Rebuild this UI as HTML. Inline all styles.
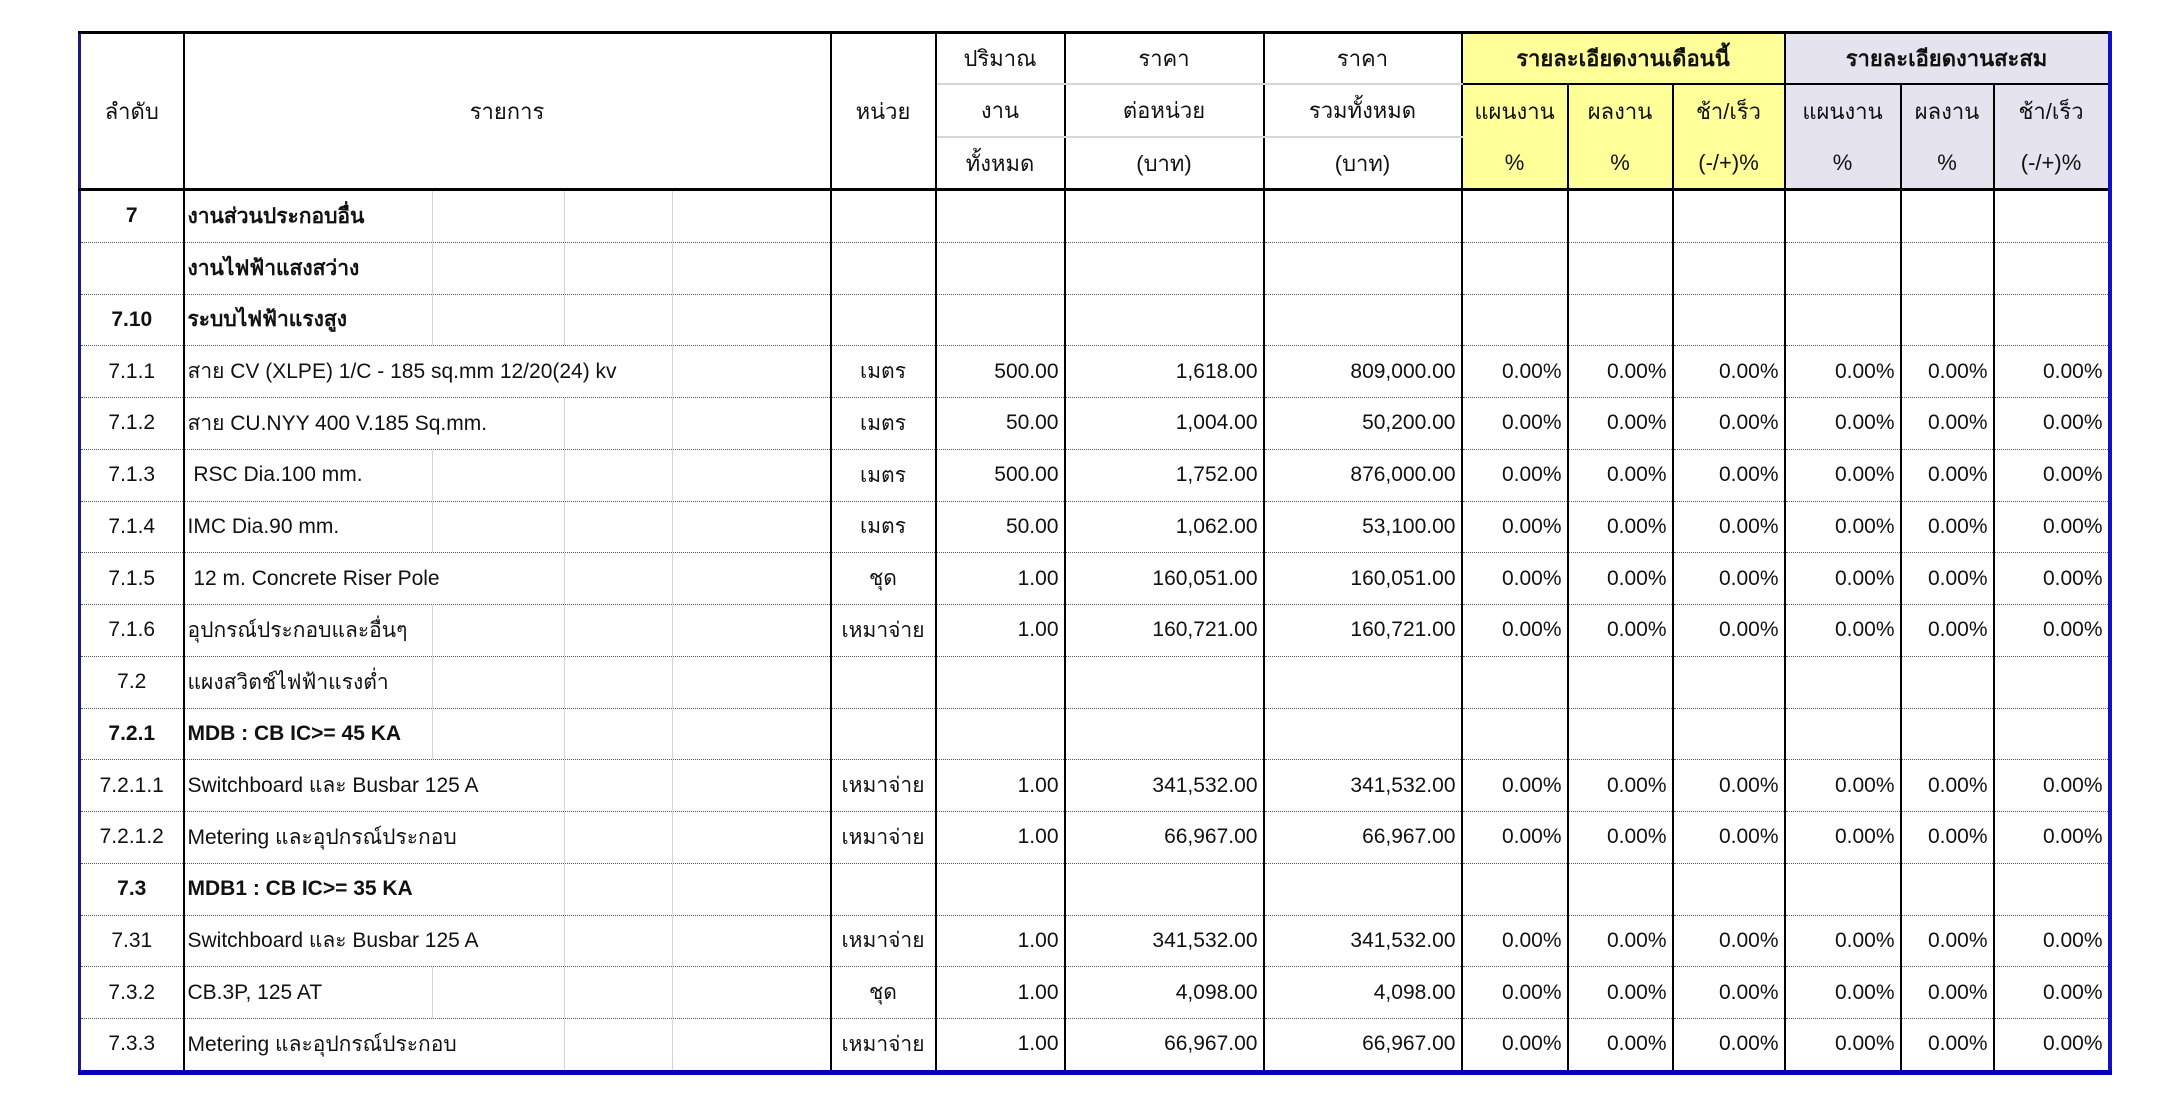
<!DOCTYPE html>
<html><head><meta charset="utf-8"><style>
html,body{margin:0;padding:0;background:#fff;width:2158px;height:1114px;overflow:hidden}
body{font-family:"Liberation Sans","DejaVu Sans",sans-serif;}
table{position:absolute;left:78px;top:31px;border-collapse:collapse;table-layout:fixed;width:2030px;
 border-top:3px solid #000;border-left:3px solid #1a1a80;border-right:4px solid #1010c8;border-bottom:5px solid #0000b8}
td{padding:0 5px;font-size:21px;color:#111;white-space:nowrap;overflow:visible;border-left:2px solid #000;border-right:2px solid #000;vertical-align:middle}
tr.b td{height:50.75px;border-bottom:1px dotted #555}
td.q{border-right:1px solid #555}
.c{text-align:center}.r{text-align:right}.bo{font-weight:bold}
.d{position:relative;padding-left:3px}
.d span{position:relative;z-index:2}
.g{position:absolute;top:0;bottom:0;width:1px;background:#d4d4d4;z-index:1}
.g1{left:247px}.g2{left:379px}.g3{left:487px}
.y{background:#ffff99}.l{background:#e5e3ee}
.h td{text-align:center;font-size:22px}
.h1 td{height:49px}.h2 td{height:51px}.h3 td{height:50px}
.gl{border-bottom:2px solid #d6d6d6}
.hb td{border-bottom:3px solid #000}
</style></head><body>
<table>
<colgroup><col style="width:104px"><col style="width:647px"><col style="width:105px"><col style="width:129px"><col style="width:199px"><col style="width:198px"><col style="width:106px"><col style="width:105px"><col style="width:112px"><col style="width:116px"><col style="width:93px"><col style="width:116px"></colgroup>
<tr class="h h1"><td rowspan="3" style="border-bottom:3px solid #000">ลำดับ</td><td rowspan="3" style="border-bottom:3px solid #000">รายการ</td><td rowspan="3" style="border-bottom:3px solid #000">หน่วย</td><td class="gl q">ปริมาณ</td><td class="gl">ราคา</td><td class="gl">ราคา</td><td colspan="3" class="y bo" style="border-bottom:2px solid #000">รายละเอียดงานเดือนนี้</td><td colspan="3" class="l bo" style="border-bottom:2px solid #000">รายละเอียดงานสะสม</td></tr>
<tr class="h h2"><td class="gl q">งาน</td><td class="gl">ต่อหน่วย</td><td class="gl">รวมทั้งหมด</td><td class="y">แผนงาน</td><td class="y">ผลงาน</td><td class="y">ช้า/เร็ว</td><td class="l">แผนงาน</td><td class="l">ผลงาน</td><td class="l">ช้า/เร็ว</td></tr>
<tr class="h h3 hb"><td class="q">ทั้งหมด</td><td>(บาท)</td><td>(บาท)</td><td class="y">%</td><td class="y">%</td><td class="y">(-/+)%</td><td class="l">%</td><td class="l">%</td><td class="l">(-/+)%</td></tr>

<tr class="b"><td class="c bo">7</td><td class="d bo"><i class="g g1"></i><i class="g g2"></i><i class="g g3"></i><span>งานส่วนประกอบอื่น</span></td><td></td><td class="q"></td><td></td><td></td><td></td><td></td><td></td><td></td><td></td><td></td></tr>
<tr class="b"><td class="c"></td><td class="d bo"><i class="g g1"></i><i class="g g2"></i><i class="g g3"></i><span>งานไฟฟ้าแสงสว่าง</span></td><td></td><td class="q"></td><td></td><td></td><td></td><td></td><td></td><td></td><td></td><td></td></tr>
<tr class="b"><td class="c bo">7.10</td><td class="d bo"><i class="g g1"></i><i class="g g2"></i><i class="g g3"></i><span>ระบบไฟฟ้าแรงสูง</span></td><td></td><td class="q"></td><td></td><td></td><td></td><td></td><td></td><td></td><td></td><td></td></tr>
<tr class="b"><td class="c">7.1.1</td><td class="d"><i class="g g3"></i><span>สาย CV (XLPE) 1/C - 185 sq.mm 12/20(24) kv</span></td><td class="c">เมตร</td><td class="r q">500.00</td><td class="r">1,618.00</td><td class="r">809,000.00</td><td class="r">0.00%</td><td class="r">0.00%</td><td class="r">0.00%</td><td class="r">0.00%</td><td class="r">0.00%</td><td class="r">0.00%</td></tr>
<tr class="b"><td class="c">7.1.2</td><td class="d"><i class="g g2"></i><i class="g g3"></i><span>สาย CU.NYY 400 V.185 Sq.mm.</span></td><td class="c">เมตร</td><td class="r q">50.00</td><td class="r">1,004.00</td><td class="r">50,200.00</td><td class="r">0.00%</td><td class="r">0.00%</td><td class="r">0.00%</td><td class="r">0.00%</td><td class="r">0.00%</td><td class="r">0.00%</td></tr>
<tr class="b"><td class="c">7.1.3</td><td class="d"><i class="g g1"></i><i class="g g2"></i><i class="g g3"></i><span>&nbsp;RSC Dia.100 mm.</span></td><td class="c">เมตร</td><td class="r q">500.00</td><td class="r">1,752.00</td><td class="r">876,000.00</td><td class="r">0.00%</td><td class="r">0.00%</td><td class="r">0.00%</td><td class="r">0.00%</td><td class="r">0.00%</td><td class="r">0.00%</td></tr>
<tr class="b"><td class="c">7.1.4</td><td class="d"><i class="g g1"></i><i class="g g2"></i><i class="g g3"></i><span>IMC Dia.90 mm.</span></td><td class="c">เมตร</td><td class="r q">50.00</td><td class="r">1,062.00</td><td class="r">53,100.00</td><td class="r">0.00%</td><td class="r">0.00%</td><td class="r">0.00%</td><td class="r">0.00%</td><td class="r">0.00%</td><td class="r">0.00%</td></tr>
<tr class="b"><td class="c">7.1.5</td><td class="d"><i class="g g2"></i><i class="g g3"></i><span>&nbsp;12 m. Concrete Riser Pole</span></td><td class="c">ชุด</td><td class="r q">1.00</td><td class="r">160,051.00</td><td class="r">160,051.00</td><td class="r">0.00%</td><td class="r">0.00%</td><td class="r">0.00%</td><td class="r">0.00%</td><td class="r">0.00%</td><td class="r">0.00%</td></tr>
<tr class="b"><td class="c">7.1.6</td><td class="d"><i class="g g1"></i><i class="g g2"></i><i class="g g3"></i><span>อุปกรณ์ประกอบและอื่นๆ</span></td><td class="c">เหมาจ่าย</td><td class="r q">1.00</td><td class="r">160,721.00</td><td class="r">160,721.00</td><td class="r">0.00%</td><td class="r">0.00%</td><td class="r">0.00%</td><td class="r">0.00%</td><td class="r">0.00%</td><td class="r">0.00%</td></tr>
<tr class="b"><td class="c">7.2</td><td class="d"><i class="g g1"></i><i class="g g2"></i><i class="g g3"></i><span>แผงสวิตช์ไฟฟ้าแรงต่ำ</span></td><td></td><td class="q"></td><td></td><td></td><td></td><td></td><td></td><td></td><td></td><td></td></tr>
<tr class="b"><td class="c bo">7.2.1</td><td class="d bo"><i class="g g1"></i><i class="g g2"></i><i class="g g3"></i><span>MDB : CB IC&gt;= 45 KA</span></td><td></td><td class="q"></td><td></td><td></td><td></td><td></td><td></td><td></td><td></td><td></td></tr>
<tr class="b"><td class="c">7.2.1.1</td><td class="d"><i class="g g2"></i><i class="g g3"></i><span>Switchboard และ Busbar 125 A</span></td><td class="c">เหมาจ่าย</td><td class="r q">1.00</td><td class="r">341,532.00</td><td class="r">341,532.00</td><td class="r">0.00%</td><td class="r">0.00%</td><td class="r">0.00%</td><td class="r">0.00%</td><td class="r">0.00%</td><td class="r">0.00%</td></tr>
<tr class="b"><td class="c">7.2.1.2</td><td class="d"><i class="g g2"></i><i class="g g3"></i><span>Metering และอุปกรณ์ประกอบ</span></td><td class="c">เหมาจ่าย</td><td class="r q">1.00</td><td class="r">66,967.00</td><td class="r">66,967.00</td><td class="r">0.00%</td><td class="r">0.00%</td><td class="r">0.00%</td><td class="r">0.00%</td><td class="r">0.00%</td><td class="r">0.00%</td></tr>
<tr class="b"><td class="c bo">7.3</td><td class="d bo"><i class="g g2"></i><i class="g g3"></i><span>MDB1 : CB IC&gt;= 35 KA</span></td><td></td><td class="q"></td><td></td><td></td><td></td><td></td><td></td><td></td><td></td><td></td></tr>
<tr class="b"><td class="c">7.31</td><td class="d"><i class="g g2"></i><i class="g g3"></i><span>Switchboard และ Busbar 125 A</span></td><td class="c">เหมาจ่าย</td><td class="r q">1.00</td><td class="r">341,532.00</td><td class="r">341,532.00</td><td class="r">0.00%</td><td class="r">0.00%</td><td class="r">0.00%</td><td class="r">0.00%</td><td class="r">0.00%</td><td class="r">0.00%</td></tr>
<tr class="b"><td class="c">7.3.2</td><td class="d"><i class="g g1"></i><i class="g g2"></i><i class="g g3"></i><span>CB.3P, 125 AT</span></td><td class="c">ชุด</td><td class="r q">1.00</td><td class="r">4,098.00</td><td class="r">4,098.00</td><td class="r">0.00%</td><td class="r">0.00%</td><td class="r">0.00%</td><td class="r">0.00%</td><td class="r">0.00%</td><td class="r">0.00%</td></tr>
<tr class="b"><td class="c">7.3.3</td><td class="d"><i class="g g2"></i><i class="g g3"></i><span>Metering และอุปกรณ์ประกอบ</span></td><td class="c">เหมาจ่าย</td><td class="r q">1.00</td><td class="r">66,967.00</td><td class="r">66,967.00</td><td class="r">0.00%</td><td class="r">0.00%</td><td class="r">0.00%</td><td class="r">0.00%</td><td class="r">0.00%</td><td class="r">0.00%</td></tr>
</table>
</body></html>
